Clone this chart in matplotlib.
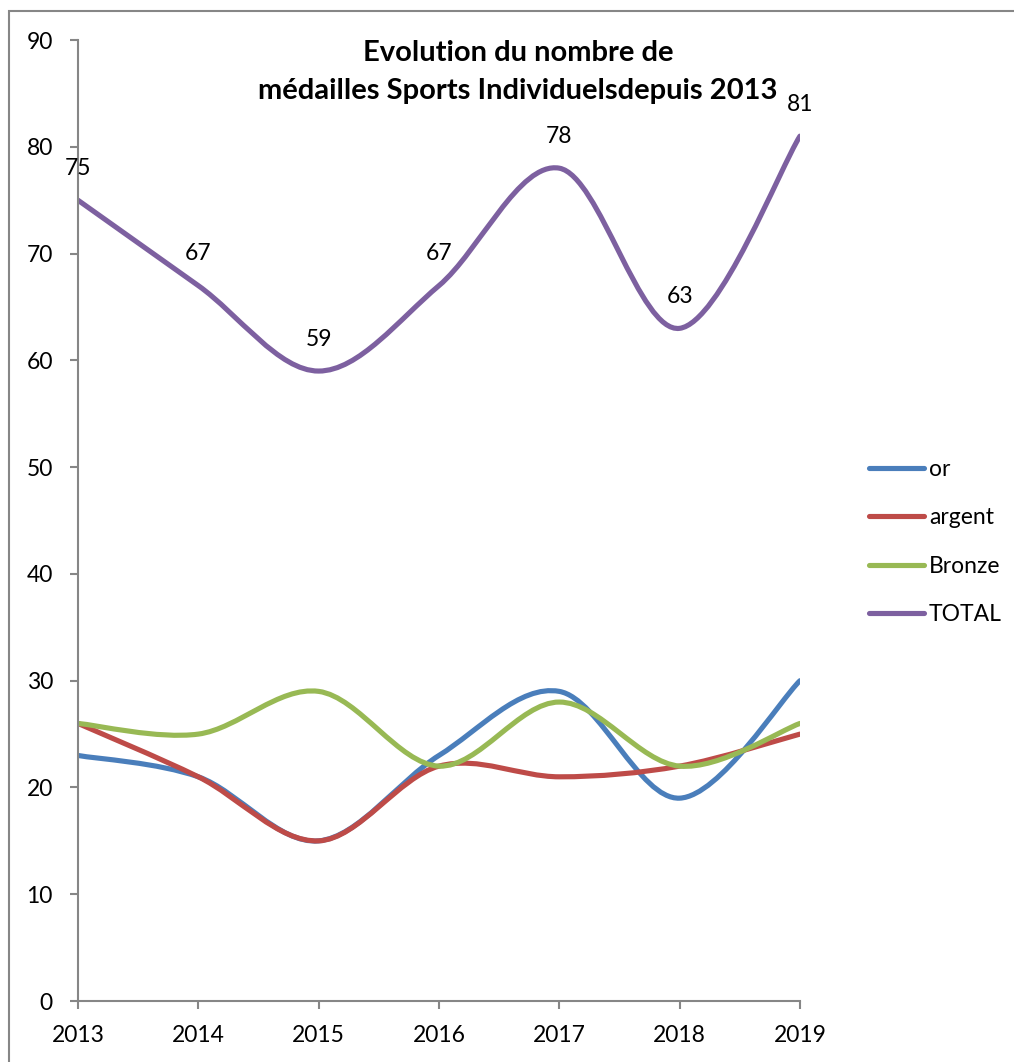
import matplotlib
matplotlib.use("Agg")
import matplotlib.pyplot as plt
from matplotlib.path import Path
from matplotlib.patches import PathPatch, Rectangle
from matplotlib.lines import Line2D

plt.rcParams['font.family'] = ['Lato', 'DejaVu Sans']

# données
annees = [2013, 2014, 2015, 2016, 2017, 2018, 2019]
series = ["or", "argent", "Bronze", "TOTAL"]
val_or = [23, 21, 15, 23, 29, 19, 30]
val_argent = [26, 21, 15, 22, 21, 22, 25]
val_bronze = [26, 25, 29, 22, 28, 22, 26]
val_total = [75, 67, 59, 67, 78, 63, 81]
couleurs = ["#4A7EBB", "#BE4B48", "#98B954", "#7D60A0"]


def courbe_lissee(x, y):
    # lissage façon Excel : béziers cubiques (Catmull-Rom)
    pts = list(zip(x, y))
    verts = [pts[0]]
    codes = [Path.MOVETO]
    n = len(pts)
    for i in range(n - 1):
        p0 = pts[max(i - 1, 0)]
        p1 = pts[i]
        p2 = pts[i + 1]
        p3 = pts[min(i + 2, n - 1)]
        c1 = (p1[0] + (p2[0] - p0[0]) / 6, p1[1] + (p2[1] - p0[1]) / 6)
        c2 = (p2[0] - (p3[0] - p1[0]) / 6, p2[1] - (p3[1] - p1[1]) / 6)
        verts += [c1, c2, p2]
        codes += [Path.CURVE4] * 3
    return Path(verts, codes)


fig = plt.figure(figsize=(10.14, 10.62), dpi=100)
ax = fig.add_axes([0.0769, 0.0574, 0.712, 0.9049])

gris = "#868686"
for vals, c in zip([val_or, val_argent, val_bronze, val_total], couleurs):
    patch = PathPatch(courbe_lissee(annees, vals), facecolor="none", edgecolor=c,
                      lw=3.7, capstyle="round", joinstyle="round")
    ax.add_patch(patch)

for x, v in zip(annees, val_total):
    ax.annotate(str(v), (x, v), xytext=(0, 23), textcoords="offset points",
                ha="center", va="center", fontsize=16.5)

ax.set_xlim(2013, 2019)
ax.set_ylim(0, 90)
ax.set_xticks(annees)
ax.set_yticks(range(0, 91, 10))
ax.tick_params(labelsize=16.5, color=gris, length=6, width=1.5)
ax.tick_params(axis="x", pad=11)
ax.tick_params(axis="y", pad=12)
for s in ["top", "right"]:
    ax.spines[s].set_visible(False)
for s in ["left", "bottom"]:
    ax.spines[s].set_color(gris)
    ax.spines[s].set_linewidth(1.5)
ax.patch.set_visible(False)

fig.text(0.511, 0.9505, "Evolution du nombre de", ha="center", va="center",
         fontsize=21, fontweight="bold")
fig.text(0.511, 0.9145, "médailles Sports Individuelsdepuis 2013", ha="center",
         va="center", fontsize=21, fontweight="bold")

handles = [Line2D([], [], color=c, lw=3.7, solid_capstyle="round") for c in couleurs]
fig.legend(handles, series, loc="center left", bbox_to_anchor=(0.837, 0.4895),
           frameon=False, fontsize=16.5, handlelength=2.4, handletextpad=0.2,
           labelspacing=1.2)

# cadre du graphique (coupé à droite et en bas)
fig.patches.append(Rectangle((9 / 1014, -0.05), 1.2, 1 - 11 / 1062 + 0.05,
                             transform=fig.transFigure, fill=False,
                             edgecolor=gris, lw=1.5))

fig.savefig("out.png", dpi=100)
